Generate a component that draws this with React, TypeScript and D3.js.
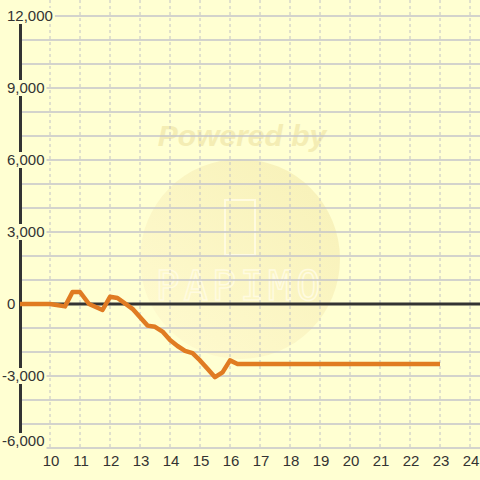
import React from "react";
import * as d3 from "d3";

const times = [9, 10, 10.5, 10.75, 11, 11.3, 11.75, 12, 12.25, 12.75, 13.25, 13.5, 13.75, 14, 14.25, 14.5, 14.75, 15, 15.25, 15.5, 15.75, 16, 16.25, 17, 18, 19, 20, 21, 22, 23];
const values = [0, 0, -100, 500, 500, 0, -250, 300, 250, -200, -900, -950, -1150, -1500, -1750, -1950, -2050, -2350, -2700, -3050, -2850, -2350, -2500, -2500, -2500, -2500, -2500, -2500, -2500, -2500];
const xTicks = [10, 11, 12, 13, 14, 15, 16, 17, 18, 19, 20, 21, 22, 23, 24];
const yGrid = d3.range(-6000, 12001, 1000);
const yLabels = [-6000, -3000, 0, 3000, 6000, 9000, 12000];

const W = 480, H = 480;
const BG = "#ffffd2";

export default function App() {
  const x = d3.scaleLinear().domain([9, 24.333]).range([20, 480]);
  const y = d3.scaleLinear().domain([-6000, 12666.7]).range([448, 0]);
  const data = times.map((t, i) => [t, values[i]] as [number, number]);
  const line = d3.line<[number, number]>().x(d => x(d[0])).y(d => y(d[1]));
  const fmt = d3.format(",");
  const fontSize = 15;
  const charW = (s: string) => {
    let w = 0;
    for (const c of s) w += c === "," ? 0.278 : c === "-" ? 0.333 : 0.556;
    return w * fontSize;
  };
  return (
    <svg width={W} height={H} style={{ position: "absolute", left: 0, top: 0 }}>
      <defs>
        <linearGradient id="wm" x1="0" y1="1" x2="1" y2="0">
          <stop offset="0" stopColor="#fffad0" />
          <stop offset="1" stopColor="#f6efb4" />
        </linearGradient>
      </defs>
      <rect x={0} y={0} width={W} height={H} fill={BG} />
      {/* watermark */}
      <circle cx={240} cy={259} r={100} fill="url(#wm)" opacity={0.9} />
      <text x={242} y={146} textAnchor="middle" fontFamily="Liberation Sans, Arial" fontWeight="bold" fontStyle="italic" fontSize={30} fill="#f4edb4">Powered by</text>
      <rect x={225} y={200} width={30} height={55} fill="none" stroke="#fffbe0" strokeWidth={2} />
      <text x={240} y={300} textAnchor="middle" fontFamily="DejaVu Sans Mono, monospace" fontSize={40} fill="none" stroke="#fffbe0" strokeWidth={1.5} letterSpacing={4}>PAPIMO</text>
      {/* grid */}
      {yGrid.map(v => (
        <line key={"h" + v} x1={20} x2={W} y1={y(v)} y2={y(v)} stroke="#c4c4ca" strokeWidth={1.3} />
      ))}
      {xTicks.map(t => (
        <line key={"v" + t} x1={x(t)} x2={x(t)} y1={0} y2={448} stroke="#c2c2c6" strokeWidth={1} strokeDasharray="3,3" />
      ))}
      {/* axes */}
      <line x1={20.5} x2={20.5} y1={y(12000)} y2={448} stroke="#333" strokeWidth={3} />
      <line x1={20} x2={W} y1={y(0)} y2={y(0)} stroke="#333" strokeWidth={3} />
      {/* series */}
      <path d={line(data) || ""} fill="none" stroke="#e07b22" strokeWidth={4.5} strokeLinejoin="round" strokeLinecap="butt" />
      {/* y labels with masking backgrounds */}
      {yLabels.map(v => {
        const s = fmt(v).replace("−", "-");
        const w = charW(s);
        const x0 = v < 0 ? 2 : 7;
        let cy = y(v);
        if (cy + 7 > 447) cy = 441;
        return (
          <g key={"yl" + v}>
            <rect x={x0 - 2} y={cy - 8} width={w + 4} height={16} fill={BG} />
            <text x={x0} y={cy} dy="0.35em" fontFamily="Liberation Sans, Arial" fontSize={fontSize} fill="#333">{s}</text>
          </g>
        );
      })}
      {xTicks.map(t => (
        <text key={"xl" + t} x={x(t) + 1} y={461} dy="0.35em" textAnchor="middle" fontFamily="Liberation Sans, Arial" fontSize={fontSize} fill="#333">{t}</text>
      ))}
    </svg>
  );
}
